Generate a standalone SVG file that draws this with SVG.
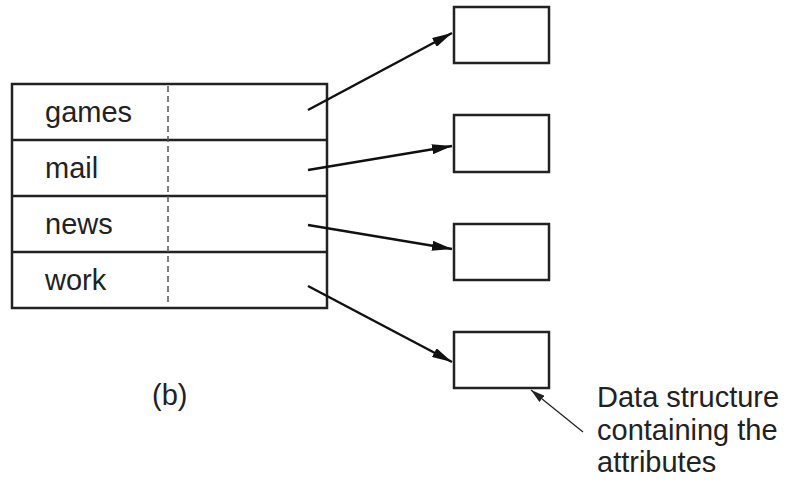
<svg xmlns="http://www.w3.org/2000/svg" width="803" height="486" viewBox="0 0 803 486">
<style>
.box{fill:#fff;stroke:#222;stroke-width:2.5}
.t{font-family:"Liberation Sans",Arial,sans-serif;font-size:29px;fill:#222}
.c{stroke:#111;stroke-width:2.5;fill:none}
.thin{stroke:#222;stroke-width:1.3;fill:none}
</style>
<defs>
<marker id="ah" viewBox="0 0 20 10" refX="20" refY="5" markerWidth="20" markerHeight="10" markerUnits="userSpaceOnUse" orient="auto">
<path d="M0,0 L20,5 L0,10 Z" fill="#111"/>
</marker>
<marker id="ahs" viewBox="0 0 14 8" refX="14" refY="4" markerWidth="14" markerHeight="8" markerUnits="userSpaceOnUse" orient="auto">
<path d="M0,0 L14,4 L0,8 Z" fill="#222"/>
</marker>
</defs>
<rect width="803" height="486" fill="#fff"/>
<g id="table">
<rect class="box" x="12" y="84" width="315" height="224"/>
<line class="box" x1="12" y1="140" x2="327" y2="140"/>
<line class="box" x1="12" y1="196" x2="327" y2="196"/>
<line class="box" x1="12" y1="252" x2="327" y2="252"/>
<line x1="168" y1="86" x2="168" y2="306" stroke="#555" stroke-width="1.5" stroke-dasharray="6,4"/>
<text class="t" x="45" y="122">games</text>
<text class="t" x="45" y="178">mail</text>
<text class="t" x="45" y="234">news</text>
<text class="t" x="45" y="290">work</text>
</g>
<g id="box1"><rect class="box" x="454" y="7" width="95" height="56"/></g>
<g id="box2"><rect class="box" x="454" y="115" width="95" height="57"/></g>
<g id="box3"><rect class="box" x="454" y="224" width="95" height="56"/></g>
<g id="box4"><rect class="box" x="454" y="332" width="95" height="56"/></g>
<g id="connectors">
<line class="c" x1="308" y1="110" x2="452" y2="33" marker-end="url(#ah)"/>
<line class="c" x1="308" y1="170" x2="452" y2="146" marker-end="url(#ah)"/>
<line class="c" x1="308" y1="225" x2="452" y2="249" marker-end="url(#ah)"/>
<line class="c" x1="308" y1="286" x2="452" y2="362" marker-end="url(#ah)"/>
<line class="thin" x1="583" y1="432" x2="531" y2="390" marker-end="url(#ahs)"/>
</g>
<g id="labels">
<text class="t" x="152" y="405">(b)</text>
<text class="t" x="597" y="407">Data structure</text>
<text class="t" x="597" y="440">containing the</text>
<text class="t" x="597" y="472">attributes</text>
</g>
</svg>
